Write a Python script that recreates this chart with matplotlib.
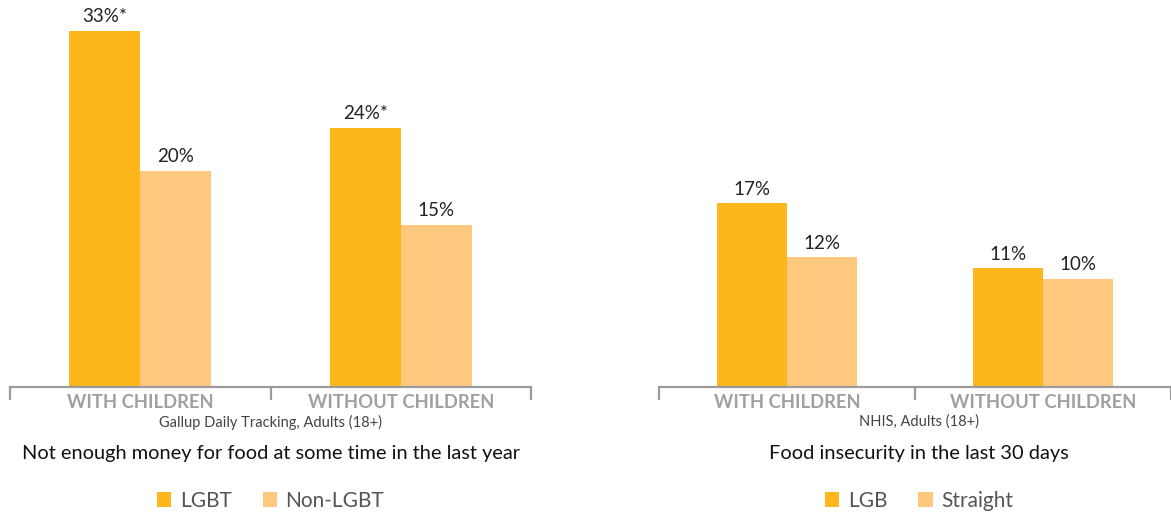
import matplotlib.pyplot as plt
import numpy as np

plt.rcParams['font.family'] = ['Lato', 'DejaVu Sans']

# data
categories = ['WITH CHILDREN', 'WITHOUT CHILDREN']

left_groups = ['LGBT', 'Non-LGBT']
left_a = [33, 24]
left_b = [20, 15]
left_a_mark = ['*', '*']
left_b_mark = ['', '']
left_source = 'Gallup Daily Tracking, Adults (18+)'
left_title = 'Not enough money for food at some time in the last year'

right_groups = ['LGB', 'Straight']
right_a = [17, 11]
right_b = [12, 10]
right_a_mark = ['', '']
right_b_mark = ['', '']
right_source = 'NHIS, Adults (18+)'
right_title = 'Food insecurity in the last 30 days'

color_a = '#FDB71A'
color_b = '#FEC97F'
grey = '#9B9B9B'

W, H = 1171, 514
fig = plt.figure(figsize=(W / 100, H / 100), dpi=100)

px_per_unit = 10.8
base_y = 387  # pixel row of the baseline


def panel(x0, x1, cat_w, a, b, a_mark, b_mark, groups, source, title):
    ax = fig.add_axes([x0 / W, (H - base_y) / H, (x1 - x0) / W, base_y / H])
    ax.set_xlim(0, (x1 - x0) / cat_w)
    ax.set_ylim(0, base_y / px_per_unit)
    x = np.arange(len(categories)) + 0.5
    bw = 0.273
    ra = ax.bar(x - bw / 2, a, bw, color=color_a, label=groups[0])
    rb = ax.bar(x + bw / 2, b, bw, color=color_b, label=groups[1])
    ax.bar_label(ra, labels=[f'{v}%{m}' for v, m in zip(a, a_mark)],
                 padding=4, fontsize=13.5, color='#222222')
    ax.bar_label(rb, labels=[f'{v}%{m}' for v, m in zip(b, b_mark)],
                 padding=4, fontsize=13.5, color='#222222')

    for s in ['top', 'left', 'right']:
        ax.spines[s].set_visible(False)
    ax.spines['bottom'].set_color(grey)
    ax.spines['bottom'].set_linewidth(1.6)
    ax.set_yticks([])
    ax.set_xticks(x)
    ax.set_xticklabels(categories, fontsize=13.2, fontweight='bold', color='#A0A0A0')
    ax.tick_params(axis='x', which='major', length=0, pad=5)
    ax.set_xticks(np.arange(len(categories) + 1), minor=True)
    ax.tick_params(axis='x', which='minor', length=9, width=1.6, color=grey, direction='out')

    cx = (x0 + cat_w) / W
    fig.text(cx, 1 - 422 / H, source, ha='center', va='center', fontsize=10.5, color='#444444')
    fig.text(cx, 1 - 454 / H, title, ha='center', va='center', fontsize=14.4, color='#111111')
    ax.legend(loc='center', bbox_to_anchor=(cx, 1 - 501 / H), bbox_transform=fig.transFigure,
              ncol=2, frameon=False, fontsize=15, handlelength=0.7, handleheight=0.7,
              handletextpad=0.4, columnspacing=1.5, labelcolor='#555555')
    return ax


panel(10, 531, 260.5, left_a, left_b, left_a_mark, left_b_mark, left_groups, left_source, left_title)
panel(659, 1171, 260, right_a, right_b, right_a_mark, right_b_mark, right_groups, right_source, right_title)

fig.savefig('out.png', dpi=100)
